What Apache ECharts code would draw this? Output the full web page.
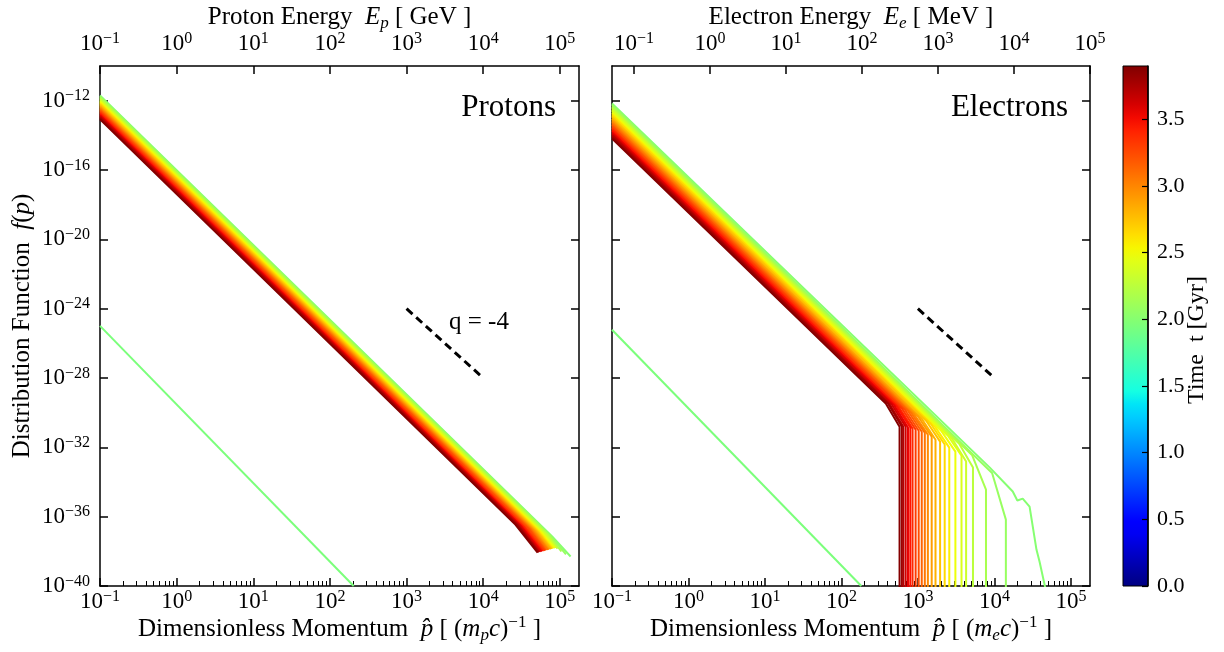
<!DOCTYPE html>
<html>
<head>
<meta charset="utf-8">
<script src="https://cdn.jsdelivr.net/npm/echarts@6/dist/echarts.min.js"></script>
<style>
  html, body { margin: 0; padding: 0; background: #fff; }
  #chart { width: 1224px; height: 652px; }
</style>
</head>
<body>
<div id="chart"></div>
<script>
// ---------------------------------------------------------------------------
// Spectra are stored as log10 values: log10(p̂) on x, log10 f(p) on y.
// ---------------------------------------------------------------------------

// snapshot times [Gyr] of the evolved spectra (shared by both species)
const snapshotTimes = [2.00, 2.08, 2.16, 2.25, 2.33, 2.41, 2.49, 2.57, 2.65, 2.74, 2.82, 2.90,
                       2.98, 3.06, 3.14, 3.23, 3.31, 3.39, 3.47, 3.55, 3.63, 3.72, 3.80, 3.88];
// time of the first (injection) spectrum
const injectionTime = 1.95;
const colorbarMax = 3.9;

// --- protons -------------------------------------------------------------
const protonInjection = [[-1, -24.99], [2.31, -40.0]];
const protonLogF0 = [-11.70, -11.76, -11.82, -11.88, -11.94, -12.00, -12.06, -12.12, -12.18, -12.24, -12.30, -12.36,
                     -12.42, -12.48, -12.54, -12.60, -12.66, -12.72, -12.78, -12.84, -12.90, -12.96, -13.02, -13.08];
const protonKneeLogP = [4.90, 4.88, 4.86, 4.84, 4.82, 4.79, 4.77, 4.75, 4.73, 4.71, 4.69, 4.67,
                        4.65, 4.63, 4.61, 4.59, 4.56, 4.54, 4.52, 4.50, 4.48, 4.46, 4.44, 4.42];
const protonKneeLogF = [-37.14, -37.11, -37.08, -37.05, -37.03, -36.99, -36.96, -36.93, -36.90, -36.87, -36.84, -36.81,
                        -36.78, -36.76, -36.72, -36.69, -36.66, -36.63, -36.61, -36.57, -36.54, -36.51, -36.48, -36.46];
const protonEndLogP = [5.14, 5.08, 5.02, 4.97, 4.95, 4.94, 4.93, 4.91, 4.90, 4.89, 4.88, 4.86,
                       4.85, 4.84, 4.82, 4.81, 4.80, 4.78, 4.77, 4.76, 4.74, 4.73, 4.72, 4.71];
const protonEndLogF = [-38.30, -38.18, -38.01, -37.84, -37.78, -37.80, -37.81, -37.83, -37.84, -37.86, -37.87, -37.89,
                       -37.90, -37.92, -37.93, -37.95, -37.97, -37.98, -37.99, -38.01, -38.02, -38.04, -38.05, -38.07];

// --- electrons -----------------------------------------------------------
const electronInjection = [[-1, -25.22], [2.26, -40.0]];
// first evolved snapshot (t = 2.00 Gyr), traced in full
const electronFirstTrace = [[-1, -12.16], [3.94, -33.17], [4.24, -34.55], [4.30, -35.07], [4.37, -34.96],
                            [4.46, -35.42], [4.55, -37.90], [4.59, -38.59], [4.67, -40.20]];
// later snapshots (t = 2.08 ... 3.88 Gyr): power law, roll-over, sharp cooling cutoff
const electronLogF0 = [-12.25, -12.34, -12.43, -12.51, -12.60, -12.69, -12.78, -12.86, -12.95, -13.04, -13.13, -13.21,
                       -13.30, -13.39, -13.48, -13.57, -13.65, -13.74, -13.83, -13.92, -14.00, -14.09, -14.18];
const electronBendLogP = [3.97, 3.71, 3.54, 3.45, 3.39, 3.31, 3.23, 3.17, 3.11, 3.05, 3.00, 2.95,
                          2.91, 2.87, 2.83, 2.79, 2.75, 2.72, 2.69, 2.66, 2.63, 2.61, 2.58];
const electronBendLogF = [-33.48, -32.46, -31.80, -31.52, -31.32, -31.08, -30.85, -30.65, -30.48, -30.35, -30.21, -30.09,
                          -30.00, -29.90, -29.83, -29.75, -29.68, -29.62, -29.58, -29.54, -29.51, -29.49, -29.47];
const electronCutLogP = [4.15, 3.89, 3.72, 3.63, 3.57, 3.49, 3.41, 3.35, 3.29, 3.23, 3.18, 3.13,
                         3.09, 3.05, 3.01, 2.97, 2.93, 2.90, 2.87, 2.84, 2.81, 2.79, 2.76];
const electronCutTopLogF = [-36.17, -34.44, -33.17, -32.82, -32.48, -32.25, -32.02, -31.84, -31.67, -31.56, -31.38, -31.27,
                            -31.15, -31.10, -31.04, -30.98, -30.92, -30.86, -30.86, -30.81, -30.81, -30.81, -30.81];
const beyondCutoffLogF = -42;   // spectrum vanishes past the cutoff

// reference slope q = -4
const slopeGuide = [[3, -24], [4, -28]];

// axis ranges / ticks (decades)
const momentumRange = [-1, 5.25];
const protonEnergyRange = [-1, 5.25];
const electronEnergyRange = [-1.29, 5.0];
const fRange = [-40, -10];
const decadeTicks = [-1, 0, 1, 2, 3, 4, 5];
const fTicks = [-40, -36, -32, -28, -24, -20, -16, -12];
const timeTicks = [0, 0.5, 1.0, 1.5, 2.0, 2.5, 3.0, 3.5];

// ---------------------------------------------------------------------------
const FONT = 'Liberation Serif';

function lerp(v, pts) {
  for (let k = 1; k < pts.length; k++) {
    if (v <= pts[k][0]) {
      const [x0, y0] = pts[k - 1], [x1, y1] = pts[k];
      return y0 + (y1 - y0) * (v - x0) / (x1 - x0);
    }
  }
  return pts[pts.length - 1][1];
}
// matplotlib "jet" colormap
function jet(v) {
  v = Math.max(0, Math.min(1, v));
  const r = lerp(v, [[0, 0], [0.35, 0], [0.66, 1], [0.89, 1], [1, 0.5]]);
  const g = lerp(v, [[0, 0], [0.125, 0], [0.375, 1], [0.64, 1], [0.91, 0], [1, 0]]);
  const b = lerp(v, [[0, 0.5], [0.11, 1], [0.34, 1], [0.65, 0], [1, 0]]);
  return 'rgb(' + Math.round(r * 255) + ',' + Math.round(g * 255) + ',' + Math.round(b * 255) + ')';
}
const timeColor = t => jet(t / colorbarMax);

// minor ticks at 2..9 x 10^n
function minorTicks(range) {
  const out = [];
  for (let n = Math.floor(range[0]); n <= Math.ceil(range[1]); n++) {
    for (let k = 2; k <= 9; k++) {
      const v = n + Math.log10(k);
      if (v > range[0] && v < range[1]) out.push(v);
    }
  }
  return out;
}

const tickRich = {
  b: { fontFamily: FONT, fontSize: 23, lineHeight: 25, color: '#000' },
  s: { fontFamily: FONT, fontSize: 16, lineHeight: 13, verticalAlign: 'top', color: '#000' }
};
const nameRich = {
  n: { fontFamily: FONT, fontSize: 25, lineHeight: 30, color: '#000' },
  i: { fontFamily: FONT, fontSize: 25, lineHeight: 30, fontStyle: 'italic', color: '#000' },
  sub: { fontFamily: FONT, fontSize: 17, lineHeight: 16, fontStyle: 'italic', verticalAlign: 'bottom', color: '#000' },
  sup: { fontFamily: FONT, fontSize: 17, lineHeight: 15, verticalAlign: 'top', color: '#000' }
};
function powLabel(v) {
  const n = Math.round(v);
  return '{b|10}{s|' + (n < 0 ? '\u2212' + (-n) : n) + '}';
}

const AX_LINE = { show: true, onZero: false, lineStyle: { color: '#000', width: 1.5 } };
function axis(o) {
  return Object.assign({
    type: 'value',
    axisLine: AX_LINE,
    splitLine: { show: false },
    axisTick: { show: true, inside: true, length: 8, lineStyle: { color: '#000', width: 1.5 } },
    axisLabel: { show: false },
    nameMoveOverlap: false,
    silent: true
  }, o);
}
function majorX(grid, range, position, labels, name, nameGap) {
  return axis({
    gridIndex: grid, position, min: range[0], max: range[1],
    axisTick: { show: true, inside: true, length: 8, customValues: decadeTicks, lineStyle: { color: '#000', width: 1.5 } },
    axisLabel: labels ? { show: true, customValues: decadeTicks, formatter: powLabel, rich: tickRich,
                          margin: position === 'top' ? 10 : 3, fontFamily: FONT, fontSize: 23, color: '#000' } : { show: false },
    name: name || '', nameLocation: 'middle', nameGap: nameGap || 0,
    nameTextStyle: { fontFamily: FONT, fontSize: 25, color: '#000', rich: nameRich }
  });
}
function minorX(grid, range) {
  return axis({
    gridIndex: grid, position: 'bottom', min: range[0], max: range[1],
    axisLine: { show: false, onZero: false },
    axisTick: { show: true, inside: true, length: 5, customValues: minorTicks(range), lineStyle: { color: '#000', width: 1 } }
  });
}
function fAxis(grid, position, labels, name) {
  return axis({
    gridIndex: grid, position, min: fRange[0], max: fRange[1],
    axisTick: { show: true, inside: true, length: 8, customValues: fTicks, lineStyle: { color: '#000', width: 1.5 } },
    axisLabel: labels ? { show: true, customValues: fTicks, formatter: powLabel, rich: tickRich, margin: 10,
                          fontFamily: FONT, fontSize: 23, color: '#000' } : { show: false },
    name: name || '', nameLocation: 'middle', nameGap: 63,
    nameTextStyle: { fontFamily: FONT, fontSize: 25, color: '#000', rich: nameRich }
  });
}

function line(data, t, xi, yi, extra) {
  return Object.assign({
    type: 'line', data, xAxisIndex: xi, yAxisIndex: yi,
    showSymbol: false, symbol: 'none', clip: true, silent: true, animation: false,
    lineStyle: { color: timeColor(t), width: 2 }
  }, extra || {});
}

const series = [];
// protons (grid 0)
series.push(line(protonInjection, injectionTime, 0, 0));
snapshotTimes.forEach((t, i) => {
  series.push(line([[-1, protonLogF0[i]], [protonKneeLogP[i], protonKneeLogF[i]],
                    [protonEndLogP[i], protonEndLogF[i]]], t, 0, 0));
});
series.push(line(slopeGuide, 0, 0, 0, { lineStyle: { color: '#000', width: 3, type: [8, 5] } }));

// electrons (grid 1)
series.push(line(electronInjection, injectionTime, 3, 2));
series.push(line(electronFirstTrace, snapshotTimes[0], 3, 2));
electronLogF0.forEach((f0, j) => {
  const t = snapshotTimes[j + 1];
  series.push(line([[-1, f0], [electronBendLogP[j], electronBendLogF[j]],
                    [electronCutLogP[j], electronCutTopLogF[j]], [electronCutLogP[j], beyondCutoffLogF]], t, 3, 2));
});
series.push(line(slopeGuide, 0, 3, 2, { lineStyle: { color: '#000', width: 3, type: [8, 5] } }));

// colorbar gradient
const stops = [];
for (let k = 0; k <= 40; k++) stops.push({ offset: k / 40, color: jet(k / 40) });

const chart = echarts.init(document.getElementById('chart'), null, { renderer: 'canvas' });
chart.setOption({
  animation: false,
  backgroundColor: '#fff',
  grid: [
    { left: 100, top: 66, width: 479, height: 520, outerBoundsMode: 'none' },
    { left: 612, top: 66, width: 478, height: 520, outerBoundsMode: 'none' },
    { left: 1123, top: 66, width: 25, height: 520, outerBoundsMode: 'none' }
  ],
  xAxis: [
    majorX(0, momentumRange, 'bottom', true,
      '{n|Dimensionless Momentum  }{i|p\u0302}{n| [ (}{i|m}{sub|p}{i|c}{n|)}{sup|\u22121}{n| ]}', 28),
    minorX(0, momentumRange),
    majorX(0, protonEnergyRange, 'top', true, '{n|Proton Energy  }{i|E}{sub|p}{n| [ GeV ]}', 34),
    majorX(1, momentumRange, 'bottom', true,
      '{n|Dimensionless Momentum  }{i|p\u0302}{n| [ (}{i|m}{sub|e}{i|c}{n|)}{sup|\u22121}{n| ]}', 28),
    minorX(1, momentumRange),
    majorX(1, electronEnergyRange, 'top', true, '{n|Electron Energy  }{i|E}{sub|e}{n| [ MeV ]}', 34),
    { type: 'value', gridIndex: 2, min: 0, max: 1, show: false }
  ],
  yAxis: [
    fAxis(0, 'left', true, '{n|Distribution Function  }{i|f}{n|(}{i|p}{n|)}'),
    fAxis(0, 'right', false),
    fAxis(1, 'left', false),
    fAxis(1, 'right', false),
    axis({
      gridIndex: 2, position: 'right', min: 0, max: colorbarMax, z: 10,
      axisTick: { show: true, inside: true, length: 6, customValues: timeTicks, lineStyle: { color: '#000', width: 1.2 } },
      axisLabel: { show: true, customValues: timeTicks, formatter: v => v.toFixed(1), margin: 9,
                   fontFamily: FONT, fontSize: 22, color: '#000' }
    })
  ],
  series,
  graphic: [
    { type: 'rect', shape: { x: 1123, y: 66, width: 25, height: 520 }, z: 1,
      style: { fill: new echarts.graphic.LinearGradient(0, 1, 0, 0, stops), stroke: '#000', lineWidth: 1 } },
    { type: 'text', x: 1197, y: 340, rotation: Math.PI / 2, z: 10,
      style: { text: 'Time  t [Gyr]', font: '24px "Liberation Serif"', fill: '#000', textAlign: 'center', textVerticalAlign: 'middle' } },
    { type: 'text', x: 556, y: 108, z: 10,
      style: { text: 'Protons', font: '31px "Liberation Serif"', fill: '#000', textAlign: 'right', textVerticalAlign: 'middle' } },
    { type: 'text', x: 1068, y: 108, z: 10,
      style: { text: 'Electrons', font: '31px "Liberation Serif"', fill: '#000', textAlign: 'right', textVerticalAlign: 'middle' } },
    { type: 'text', x: 449, y: 322, z: 10,
      style: { text: 'q = -4', font: '25px "Liberation Serif"', fill: '#000', textAlign: 'left', textVerticalAlign: 'middle' } }
  ]
});
</script>
</body>
</html>
